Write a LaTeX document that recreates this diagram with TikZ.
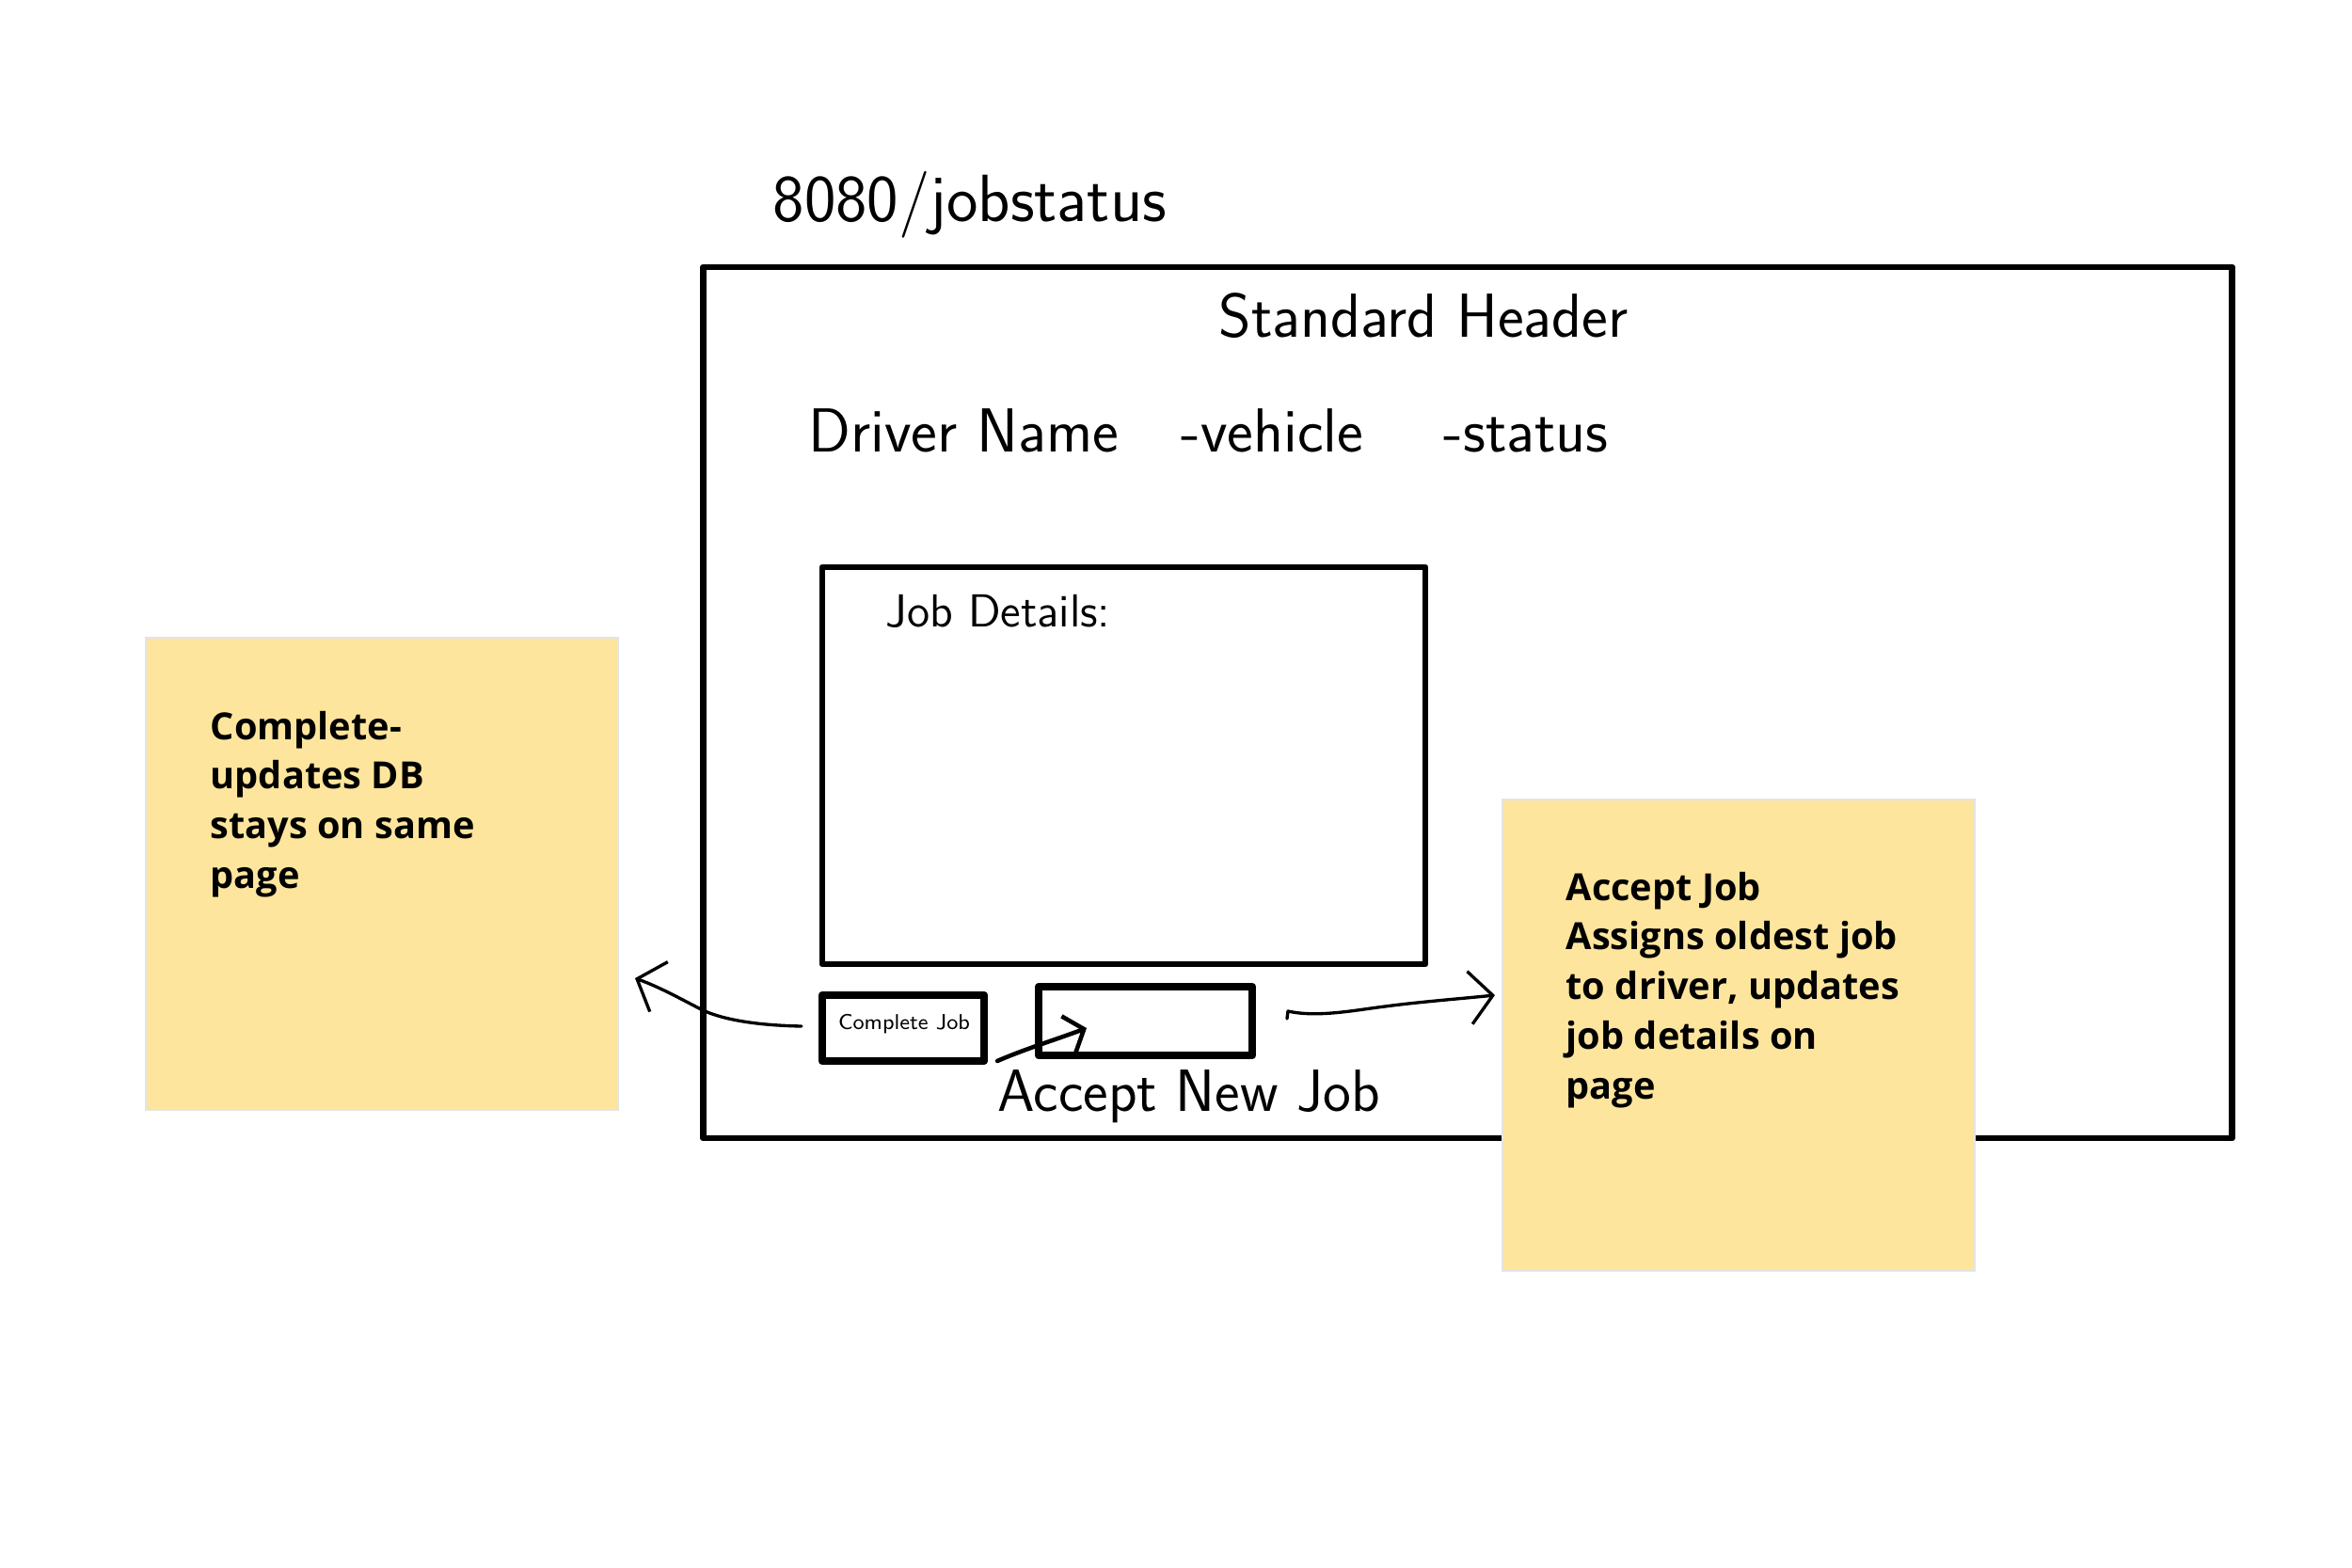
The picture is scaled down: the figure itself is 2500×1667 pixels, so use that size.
\documentclass[tikz,border=0pt]{standalone}
\usepackage{fontspec}
\setmainfont{Open Sans}
\usetikzlibrary{arrows.meta}
\definecolor{stickyfill}{HTML}{FEE59D}
\definecolor{stickyedge}{HTML}{E4E4E4}
\begin{document}
\begin{tikzpicture}[x=0.01cm, y=-0.01cm,
  frame/.style={draw, line width=1.8pt, line cap=round, line join=round, inner sep=0pt, outer sep=0pt},
  btnbox/.style={draw, line width=2.4pt, line cap=round, line join=round, inner sep=0pt, outer sep=0pt},
  stickybox/.style={fill=stickyfill, draw=stickyedge, line width=0.5pt, inner sep=0pt, outer sep=0pt},
  hand/.style={font=\sffamily\fontsize{18.8}{22}\selectfont, inner sep=0pt, anchor=base west},
  notetext/.style={font=\bfseries\fontsize{11.3}{15}\selectfont, inner sep=0pt, anchor=base west},
  sketcharrow/.style={line width=0.95pt, line cap=round, line join=round, -{Straight Barb[length=7pt,width=16pt]}}]
\fill[white] (0,0) rectangle (2500,1667);
\useasboundingbox (0,0) rectangle (2500,1667);
% page frame
\node[frame, minimum width=16.24cm, minimum height=9.26cm] (page) at (1560,747) {};
\node[hand, font=\sffamily\fontsize{20.2}{22}\selectfont] (url) at (821,236) {8080/jobstatus};
\node[hand] (hdr) at (1295,359) {Standard Header};
\node[hand] (drv) at (859,481) {Driver Name};
\node[hand] (veh) at (1255,481) {-vehicle};
\node[hand] (sts) at (1534,481) {-status};
% job details
\node[frame, minimum width=6.41cm, minimum height=4.22cm] (jobs) at (1194.5,814) {};
\node[hand, font=\sffamily\fontsize{14}{16}\selectfont] (jdl) at (941,666) {Job Details:};
% buttons
\node[btnbox, minimum width=1.72cm, minimum height=0.70cm] (cj) at (960,1093) {};
\node[font=\sffamily\fontsize{6.5}{8}\selectfont, inner sep=0pt, anchor=base] (cjl) at (961,1094) {Complete Job};
\node[btnbox, minimum width=2.27cm, minimum height=0.73cm] (an) at (1217.5,1085.5) {};
\node[hand, font=\sffamily\fontsize{18}{20}\selectfont] (anl) at (1060,1181) {Accept New Job};
% sticky notes
\node[stickybox, minimum width=5.02cm, minimum height=5.02cm] (sl) at (406,929) {};
\node[notetext] (slt) at (223,786) {\begin{tabular}[t]{@{}l@{}}Complete-\\updates DB\\stays on same\\page\end{tabular}};
\node[stickybox, minimum width=5.02cm, minimum height=5.01cm] (sr) at (1848,1100.5) {};
\node[notetext] (srt) at (1664,957) {\begin{tabular}[t]{@{}l@{}}Accept Job\\Assigns oldest job\\to driver, updates\\job details on\\page\end{tabular}};
% connectors
\coordinate (la) at (852,1091);
\coordinate (lb) at (675,1040);
\draw[sketcharrow] (la) .. controls (800,1090) and (765,1083) .. (745,1073) .. controls (720,1060) and (700,1049) .. (lb);
\coordinate (ra) at (1369,1075);
\coordinate (rb) at (1589,1058);
\draw[sketcharrow] (1368,1083) -- (ra) .. controls (1400,1082) and (1440,1074) .. (1472,1070) .. controls (1510,1065) and (1550,1062) .. (rb);
\coordinate (sa) at (1060,1128);
\coordinate (sb) at (1155,1093);
\draw[sketcharrow, line width=1.3pt, -{Straight Barb[length=5pt,width=12pt]}] (sa) .. controls (1090,1115) and (1120,1106) .. (sb);
\end{tikzpicture}
\end{document}
